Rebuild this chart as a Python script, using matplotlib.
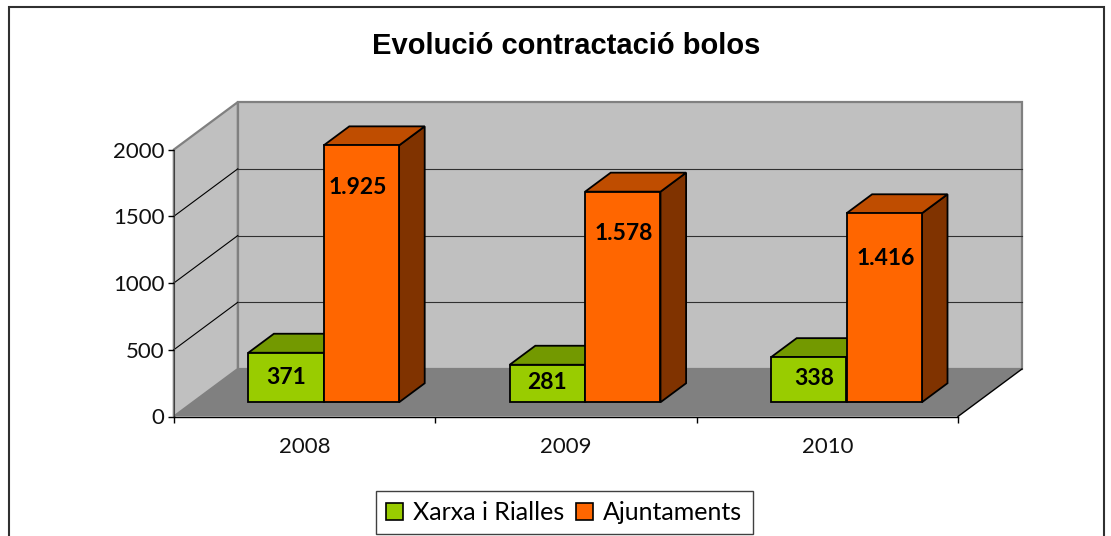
import matplotlib
matplotlib.use("Agg")
import matplotlib.pyplot as plt
from matplotlib.patches import Polygon, Rectangle, Patch

# ---- data ----
title = "Evolució contractació bolos"
years = ["2008", "2009", "2010"]
series_names = ["Xarxa i Rialles", "Ajuntaments"]
xarxa = [371, 281, 338]
ajuntaments = [1925, 1578, 1416]
yticks = [0, 500, 1000, 1500, 2000]

W, H = 1111, 536
fig = plt.figure(figsize=(W / 100, H / 100), dpi=100, facecolor="white")
PX = 72 / 100  # points per pixel

# frame
fig.add_artist(Rectangle((8.5 / W, -0.02), (1103.5 - 8.5) / W, 1.02 - 6.5 / H,
                         transform=fig.transFigure, fill=False, ec="#303030", lw=1.5))

L, R, B, T = 173.8, 958.0, 416.5, 149.6
ax = fig.add_axes([L / W, 1 - B / H, (R - L) / W, (B - T) / H])
ax.set_xlim(0, 3)
ax.set_ylim(0, 2000)
ax.patch.set_visible(False)

DX = 64.0 / (R - L) * 3
DY = 47.5 / (B - T) * 2000


def P(x, y, d):
    return (x + d * DX, y + d * DY)


def poly(points, **kw):
    ax.add_patch(Polygon(points, closed=True, clip_on=False, **kw))


GRAY = "#808080"
WALL = "#C0C0C0"
# walls and floor
poly([P(0, 0, 1), P(3, 0, 1), P(3, 2000, 1), P(0, 2000, 1)], fc=WALL, ec=GRAY, lw=1.6, zorder=1)
poly([P(0, 0, 0), P(0, 0, 1), P(0, 2000, 1), P(0, 2000, 0)], fc=WALL, ec=GRAY, lw=1.6, zorder=1)
poly([P(0, 0, 0), P(3, 0, 0), P(3, 0, 1), P(0, 0, 1)], fc=GRAY, ec="none", zorder=1.2)
# depth edges of the floor
ax.plot(*zip(P(3, 0, 0), P(3, 0, 1)), color="black", lw=1.0, clip_on=False, zorder=1.3)
# gridlines
for v in yticks[1:-1]:
    ax.plot(*zip(P(0, v, 0), P(0, v, 1)), color="black", lw=0.8, clip_on=False, zorder=1.4)
    ax.plot(*zip(P(0, v, 1), P(3, v, 1)), color="#303030", lw=0.8, clip_on=False, zorder=1.4)

# bars
BW = 75.4 / (R - L) * 3
D0, D1 = 0.3, 0.7
styles = [("#99CC00", "#739900", "#4D6600"), ("#FF6600", "#BF4D00", "#803300")]
z = 2.0
for i in range(len(years)):
    for s, vals in enumerate((xarxa, ajuntaments)):
        v = vals[i]
        x0 = i + 0.5 + (s - 1) * BW
        x1 = x0 + BW
        fc, tc, sc = styles[s]
        kw = dict(ec="black", lw=1.3, joinstyle="miter")
        poly([P(x1, 0, D0), P(x1, 0, D1), P(x1, v, D1), P(x1, v, D0)], fc=sc, zorder=z, **kw)
        poly([P(x0, v, D0), P(x1, v, D0), P(x1, v, D1), P(x0, v, D1)], fc=tc, zorder=z, **kw)
        xb, yb = P(x0, 0, D0)
        ax.bar(xb, v, width=BW, bottom=yb, align="edge", color=fc, clip_on=False, zorder=z + .1, **kw)
        z += 0.2

# data labels
lab = dict(ha="center", va="center", family="Lato", weight="bold", fontsize=16.5, color="black",
           zorder=10, annotation_clip=False, textcoords="offset points")
green_nudge = [(0, 0), (0, 1), (5, 1)]
orange_nudge = [(-4, -42), (1, -42), (2, -45)]
for i in range(len(years)):
    x0 = i + 0.5 - BW
    cx, by = P(x0 + BW / 2, 0, D0)
    nx, ny = green_nudge[i]
    ax.annotate(f"{xarxa[i]}", (cx, by + xarxa[i] / 2), xytext=(nx * PX, ny * PX), **lab)
    cx, by = P(x0 + 1.5 * BW, 0, D0)
    nx, ny = orange_nudge[i]
    txt = f"{ajuntaments[i] / 1000:.3f}"
    ax.annotate(txt, (cx, by + ajuntaments[i]), xytext=(nx * PX, ny * PX), **lab)

# axes
for k in ("top", "right"):
    ax.spines[k].set_visible(False)
ax.spines["bottom"].set_linewidth(1.0)
ax.spines["left"].set_linewidth(0.8)
ax.spines["left"].set_color("#404040")
for k in ("left", "bottom"):
    ax.spines[k].set_zorder(1.5)
ax.set_yticks(yticks)
ax.set_xticks(range(4))
ax.set_xticklabels([])
ax.set_xticks([i + 0.5 for i in range(3)], years, minor=True)
ax.tick_params(axis="y", length=6 * PX, width=1.0, pad=2.5, labelsize=16, labelfontfamily="Lato",
               labelcolor="#111111")
ax.tick_params(axis="x", which="major", length=6 * PX, width=1.0)
ax.tick_params(axis="x", which="minor", length=0, pad=15, labelsize=16, labelfontfamily="Lato",
               labelcolor="#111111")

fig.text(566.5 / W, 1 - 46.0 / H, title, ha="center", va="center", family="Liberation Sans",
         weight="bold", fontsize=21, color="black")

handles = [Patch(fc=styles[i][0], ec="black", lw=1.2) for i in range(2)]
leg = fig.legend(handles, series_names, loc="center", bbox_to_anchor=(564.2 / W, 1 - 512.5 / H),
                 ncol=2, fancybox=False, framealpha=1, edgecolor="#404040",
                 prop=dict(family="Lato", size=18), handlelength=0.7, handleheight=0.7,
                 handletextpad=0.4, columnspacing=0.45, borderpad=0.4, borderaxespad=0)
leg.get_frame().set_linewidth(1.0)

fig.savefig("out.png", dpi=100)
